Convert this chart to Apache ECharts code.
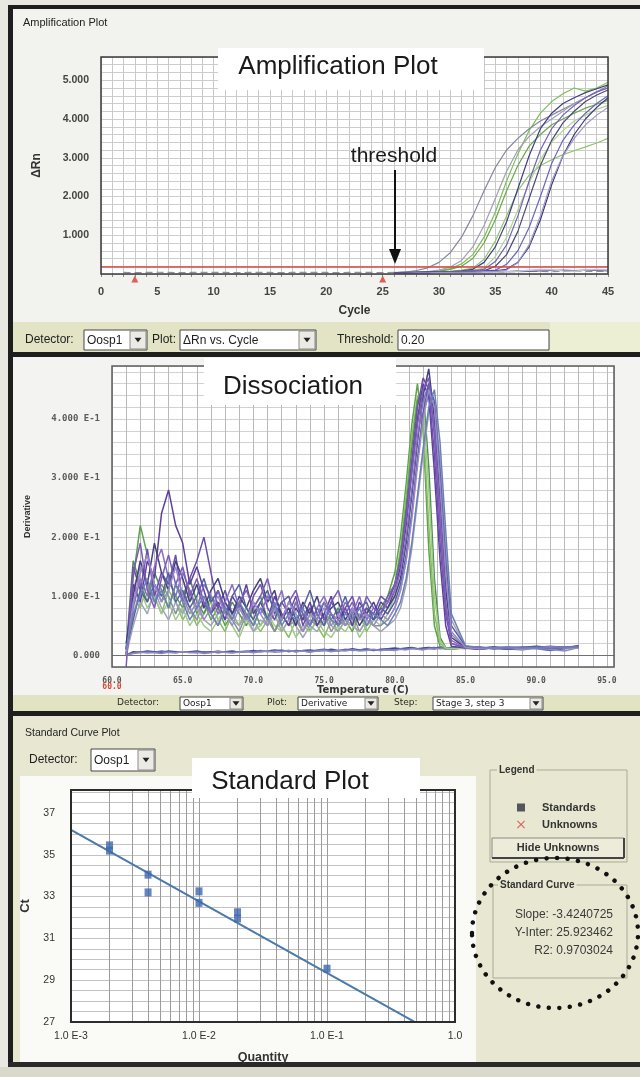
<!DOCTYPE html>
<html>
<head>
<meta charset="utf-8">
<title>qPCR run summary</title>
<script src="https://cdn.jsdelivr.net/npm/echarts@6.0.0/dist/echarts.min.js"></script>
<style>
  html, body { margin: 0; padding: 0; background: #e8e8e1; }
  #chart { width: 640px; height: 1077px; }
</style>
</head>
<body>
<div id="chart"></div>
<script>
// ---------- Amplification: ΔRn per cycle ----------
const ampCycles = [26,27,28,29,30,31,32,33,34,35,36,37,38,39,40,41,42,43,44,45];
const ampWell01 = [0.03,0.05,0.09,0.16,0.30,0.55,0.95,1.50,2.15,2.75,3.20,3.50,3.75,3.95,4.10,4.25,4.40,4.55,4.70,4.85];
const ampWell02 = [0.02,0.03,0.04,0.06,0.10,0.18,0.35,0.70,1.25,1.95,2.65,3.20,3.55,3.80,4.00,4.20,4.40,4.55,4.70,4.80];
const ampWell03 = [0.02,0.03,0.04,0.05,0.08,0.14,0.26,0.50,0.95,1.60,2.40,3.10,3.70,4.15,4.45,4.65,4.80,4.72,4.80,4.95];
const ampWell04 = [0.02,0.03,0.03,0.05,0.07,0.12,0.20,0.40,0.80,1.40,2.15,2.80,3.30,3.60,3.85,4.00,4.15,4.28,4.38,4.48];
const ampWell05 = [0.02,0.02,0.03,0.04,0.05,0.07,0.10,0.15,0.38,0.85,1.50,2.15,2.55,2.80,2.95,3.08,3.18,3.28,3.38,3.50];
const ampWell06 = [0.03,0.03,0.04,0.04,0.05,0.06,0.08,0.12,0.30,0.70,1.35,2.20,3.05,3.75,4.15,4.40,4.55,4.68,4.78,4.88];
const ampWell07 = [0.02,0.03,0.03,0.04,0.05,0.05,0.07,0.09,0.12,0.32,0.75,1.50,2.40,3.20,3.75,4.10,4.35,4.55,4.70,4.80];
const ampWell08 = [0.03,0.04,0.04,0.05,0.05,0.06,0.06,0.07,0.08,0.20,0.50,1.10,1.95,2.80,3.45,3.90,4.20,4.45,4.62,4.75];
const ampWell09 = [0.02,0.03,0.03,0.04,0.04,0.05,0.06,0.07,0.08,0.10,0.25,0.60,1.20,2.00,2.85,3.45,3.85,4.15,4.40,4.60];
const ampWell10 = [0.03,0.03,0.04,0.04,0.05,0.05,0.06,0.06,0.07,0.08,0.12,0.30,0.70,1.40,2.30,3.05,3.60,4.00,4.30,4.55];
const ampWell11 = [0.02,0.02,0.03,0.03,0.04,0.04,0.05,0.05,0.06,0.07,0.10,0.30,0.75,1.50,2.40,3.05,3.50,3.85,4.10,4.30];
const ampWell12 = [0.02,0.03,0.03,0.04,0.05,0.06,0.08,0.10,0.15,0.45,0.95,1.65,2.35,2.95,3.40,3.70,3.95,4.10,4.25,4.35];
const ampColors = ['#85889c','#9fa1b4','#7fbf5a','#6aa84a','#8fc46c','#3f3f82','#7462bc','#4a4a7a','#6a64c6','#3a3a6a','#9f92d8','#b0d48e'];
// no-template wells along the baseline
const ampBaseCycles = [2,3,4,5,6,7,8,9,10,11,12,13,14,15,16,17,18,19,20,21,22,23,24,25,26,27,28,29,30,31,32,33,34,35,36,37,38,39,40,41,42,43,44,45];
const ampNtc1 = [0.04,0.035,0.04,0.045,0.04,0.035,0.04,0.04,0.045,0.04,0.035,0.04,0.045,0.04,0.035,0.04,0.04,0.045,0.04,0.035,0.04,0.045,0.04,0.035,0.04,0.045,0.04,0.04,0.035,0.04,0.045,0.05,0.06,0.055,0.05,0.06,0.07,0.065,0.06,0.07,0.075,0.07,0.065,0.07];
const ampNtc2 = [0.02,0.03,0.04,0.03,0.05,0.04,0.06,0.05,0.06,0.07,0.06,0.08,0.07,0.08,0.09,0.10,0.09,0.10,0.09,0.08];
const ampNtc3 = [0.04,0.05,0.04,0.05,0.06,0.05,0.04,0.05,0.06,0.05,0.06,0.07,0.10,0.12,0.11,0.08,0.07,0.10,0.12,0.11];
const threshold = 0.20;
const baselineMarks = [3, 25];

// ---------- Dissociation: derivative vs. temperature ----------
const meltTemps = [61.0,61.5,62.0,62.5,63.0,63.5,64.0,64.5,65.0,65.5,
  66.0,66.5,67.0,67.5,68.0,68.5,69.0,69.5,70.0,70.5,
  71.0,71.5,72.0,72.5,73.0,73.5,74.0,74.5,75.0,75.5,
  76.0,76.5,77.0,77.5,78.0,78.5,79.0,79.5,80.0,80.4,
  80.8,81.2,81.6,82.0,82.4,82.8,83.2,83.6,84.0,85.0,
  86.0,87.0,88.0,89.0,90.0,91.0,92.0,93.0];
const meltWell01 = [0.0,0.13,0.22,0.17,0.12,0.09,0.13,0.10,0.08,0.11,
  0.07,0.09,0.06,0.08,0.05,0.07,0.09,0.06,0.08,0.05,
  0.07,0.04,0.06,0.08,0.05,0.07,0.04,0.06,0.05,0.07,
  0.05,0.06,0.04,0.07,0.05,0.06,0.08,0.10,0.14,
  0.20,0.29,0.39,0.46,0.38,0.18,0.05,0.015,0.012,0.011,
  0.012,0.011,0.013,0.012,0.011,0.013,0.012,0.012,0.013];
const meltWell02 = [0.0,0.10,0.08,0.12,0.10,0.07,0.11,0.09,0.06,0.08,
  0.05,0.07,0.09,0.06,0.04,0.07,0.05,0.08,0.06,0.04,
  0.06,0.08,0.05,0.03,0.06,0.04,0.07,0.05,0.03,0.06,
  0.04,0.06,0.05,0.07,0.04,0.06,0.07,0.09,0.12,
  0.18,0.27,0.37,0.44,0.40,0.22,0.07,0.02,0.012,0.012,
  0.011,0.012,0.012,0.013,0.011,0.012,0.013,0.012,0.014];
const meltWell03 = [0.01,0.16,0.12,0.09,0.14,0.11,0.08,0.12,0.10,0.13,
  0.09,0.07,0.10,0.08,0.06,0.09,0.07,0.05,0.08,0.10,
  0.06,0.08,0.07,0.05,0.09,0.06,0.08,0.05,0.07,0.06,
  0.08,0.05,0.07,0.06,0.08,0.06,0.07,0.09,0.12,
  0.17,0.25,0.35,0.43,0.45,0.32,0.13,0.03,0.013,0.012,
  0.012,0.013,0.011,0.012,0.014,0.012,0.013,0.012,0.013];
const meltWell04 = [0.0,0.07,0.11,0.08,0.10,0.07,0.09,0.06,0.08,0.05,
  0.07,0.05,0.04,0.06,0.08,0.05,0.03,0.06,0.04,0.05,
  0.07,0.05,0.04,0.06,0.03,0.05,0.04,0.06,0.04,0.03,
  0.05,0.04,0.06,0.03,0.05,0.06,0.05,0.07,0.10,
  0.15,0.23,0.33,0.41,0.43,0.28,0.10,0.025,0.012,0.011,
  0.012,0.011,0.012,0.013,0.012,0.011,0.012,0.013,0.012];
const meltWell05 = [0.0,0.11,0.15,0.12,0.09,0.12,0.10,0.07,0.10,0.08,
  0.06,0.09,0.07,0.05,0.08,0.06,0.04,0.07,0.05,0.08,
  0.06,0.04,0.07,0.05,0.06,0.04,0.06,0.05,0.07,0.04,
  0.06,0.05,0.07,0.04,0.06,0.05,0.05,0.06,0.08,
  0.11,0.16,0.24,0.33,0.41,0.44,0.39,0.26,0.12,0.035,
  0.012,0.012,0.013,0.011,0.012,0.013,0.012,0.014,0.013];
const meltWell06 = [0.0,0.05,0.09,0.07,0.11,0.08,0.06,0.09,0.07,0.10,
  0.08,0.06,0.05,0.07,0.09,0.06,0.05,0.07,0.04,0.06,
  0.05,0.07,0.04,0.06,0.05,0.03,0.05,0.04,0.06,0.05,
  0.04,0.06,0.05,0.04,0.06,0.05,0.04,0.05,0.06,
  0.08,0.12,0.18,0.26,0.34,0.41,0.43,0.33,0.18,0.06,
  0.014,0.012,0.013,0.012,0.011,0.013,0.012,0.013,0.014];
const meltWell07 = [0.01,0.12,0.09,0.16,0.13,0.24,0.28,0.22,0.19,0.12,
  0.15,0.11,0.07,0.09,0.06,0.10,0.08,0.12,0.07,0.09,
  0.06,0.10,0.07,0.05,0.08,0.06,0.09,0.05,0.07,0.10,
  0.06,0.08,0.05,0.09,0.07,0.06,0.09,0.08,0.11,
  0.15,0.22,0.31,0.40,0.46,0.44,0.31,0.16,0.05,0.015,
  0.012,0.010,0.013,0.011,0.012,0.014,0.012,0.013,0.015];
const meltWell08 = [0.0,0.15,0.11,0.18,0.10,0.14,0.12,0.17,0.09,0.13,
  0.16,0.20,0.14,0.08,0.11,0.07,0.09,0.06,0.10,0.12,
  0.08,0.06,0.09,0.07,0.10,0.05,0.08,0.06,0.09,0.07,
  0.05,0.08,0.10,0.06,0.08,0.07,0.10,0.09,0.12,
  0.16,0.24,0.33,0.42,0.47,0.45,0.34,0.19,0.07,0.02,
  0.012,0.011,0.012,0.010,0.013,0.012,0.014,0.013,0.014];
const meltWell09 = [0.02,0.10,0.16,0.12,0.19,0.14,0.11,0.16,0.13,0.09,
  0.12,0.08,0.11,0.13,0.09,0.07,0.10,0.08,0.11,0.13,
  0.09,0.11,0.06,0.08,0.05,0.09,0.07,0.10,0.06,0.08,
  0.09,0.06,0.08,0.05,0.07,0.09,0.06,0.08,0.10,
  0.13,0.19,0.27,0.36,0.44,0.485,0.40,0.26,0.11,0.03,
  0.013,0.012,0.014,0.012,0.013,0.015,0.013,0.012,0.016];
const meltWell10 = [0.0,0.08,0.13,0.10,0.15,0.18,0.13,0.10,0.14,0.11,
  0.08,0.12,0.10,0.07,0.09,0.12,0.08,0.06,0.09,0.07,
  0.10,0.08,0.11,0.06,0.09,0.07,0.05,0.08,0.10,0.07,
  0.06,0.09,0.07,0.10,0.06,0.08,0.07,0.09,0.11,
  0.14,0.20,0.28,0.37,0.43,0.46,0.38,0.24,0.09,0.025,
  0.012,0.013,0.011,0.012,0.014,0.013,0.012,0.014,0.015];
const meltWell11 = [0.01,0.06,0.11,0.09,0.12,0.10,0.14,0.09,0.11,0.08,
  0.10,0.13,0.09,0.11,0.07,0.10,0.12,0.08,0.06,0.09,
  0.11,0.07,0.09,0.10,0.06,0.08,0.11,0.07,0.05,0.09,
  0.07,0.10,0.06,0.08,0.09,0.06,0.08,0.07,0.09,
  0.12,0.17,0.24,0.33,0.41,0.46,0.43,0.31,0.16,0.05,
  0.015,0.012,0.013,0.011,0.012,0.014,0.012,0.013,0.014];
const meltWell12 = [-0.02,0.14,0.19,0.11,0.08,0.13,0.17,0.12,0.15,0.10,
  0.13,0.09,0.07,0.11,0.08,0.06,0.09,0.11,0.08,0.10,
  0.13,0.08,0.06,0.09,0.11,0.07,0.05,0.08,0.06,0.09,
  0.11,0.07,0.09,0.06,0.10,0.08,0.07,0.10,0.12,
  0.16,0.23,0.31,0.39,0.45,0.47,0.37,0.22,0.08,0.02,
  0.012,0.013,0.012,0.014,0.012,0.013,0.015,0.013,0.014];
const meltWell13 = [0.0,0.09,0.14,0.17,0.12,0.09,0.11,0.15,0.10,0.07,
  0.09,0.06,0.08,0.10,0.07,0.05,0.08,0.06,0.09,0.07,
  0.05,0.08,0.06,0.09,0.07,0.04,0.07,0.06,0.08,0.05,
  0.07,0.05,0.08,0.06,0.07,0.05,0.07,0.06,0.08,
  0.11,0.16,0.23,0.32,0.40,0.45,0.42,0.29,0.14,0.04,
  0.013,0.011,0.012,0.013,0.011,0.012,0.014,0.012,0.013];
const meltWell14 = [0.01,0.07,0.10,0.13,0.09,0.11,0.08,0.12,0.09,0.06,
  0.08,0.10,0.07,0.05,0.08,0.06,0.09,0.07,0.05,0.08,
  0.06,0.09,0.05,0.07,0.06,0.08,0.05,0.07,0.09,0.06,
  0.05,0.07,0.06,0.08,0.05,0.07,0.06,0.05,0.07,
  0.09,0.13,0.19,0.27,0.35,0.42,0.45,0.36,0.21,0.07,
  0.016,0.013,0.012,0.014,0.012,0.013,0.012,0.014,0.013];
const meltColors = ['#5ea34a','#86bf64','#4f8f58','#a3c98a','#8a8f9c','#a0a4b4',
  '#5d3f9c','#6e4daf','#44417f','#8a6dc0','#53629e','#7a5cb6','#9b88cc','#6b80b8'];
const meltNtc1 = [0.0,0.006,0.005,0.007,0.006,0.005,0.007,0.006,0.005,0.006,
  0.007,0.005,0.006,0.004,0.006,0.007,0.005,0.006,0.008,0.006,
  0.007,0.009,0.007,0.008,0.006,0.008,0.009,0.007,0.008,0.010,
  0.008,0.009,0.011,0.009,0.010,0.008,0.010,0.011,0.012,0.011,
  0.012,0.013,0.011,0.012,0.013,0.012,0.014,0.012,0.013,0.012,
  0.014,0.011,0.013,0.010,0.012,0.009,0.011,0.014];
const meltNtc2 = [0.0,0.004,0.006,0.004,0.005,0.007,0.005,0.004,0.006,0.005,
  0.004,0.006,0.005,0.007,0.005,0.004,0.006,0.007,0.006,0.008,
  0.006,0.007,0.009,0.006,0.008,0.007,0.006,0.009,0.010,0.008,
  0.007,0.010,0.008,0.009,0.011,0.009,0.008,0.010,0.009,0.011,
  0.010,0.012,0.011,0.010,0.012,0.013,0.011,0.012,0.010,0.013,
  0.011,0.012,0.010,0.013,0.011,0.008,0.012,0.012];
const meltNtc3 = [0.0,0.003,0.004,0.005,0.004,0.003,0.005,0.004,0.006,0.004,
  0.005,0.003,0.004,0.006,0.005,0.004,0.005,0.006,0.004,0.006,
  0.007,0.005,0.006,0.008,0.006,0.007,0.005,0.007,0.008,0.006,
  0.008,0.007,0.009,0.007,0.008,0.010,0.008,0.009,0.008,0.010,
  0.009,0.011,0.010,0.009,0.011,0.010,0.012,0.010,0.011,0.012,
  0.010,0.012,0.011,0.009,0.012,0.010,0.007,0.013];
const ntcColors = ['#45489a','#6468b2','#8c8cbc'];

// ---------- Standard curve: Ct vs. quantity ----------
const stdQuantity = [0.002,0.002,0.004,0.004,0.01,0.01,0.02,0.02,0.1];
const stdCt = [35.45,35.2,34.05,33.2,33.25,32.7,32.25,31.95,29.55];
const slope = -3.4240725;
const yIntercept = 25.923462;
const r2 = 0.9703024;
const stdRange = [0.001, 1];
const stdLogGrid = [0.002,0.003,0.004,0.005,0.006,0.007,0.008,0.009,0.01,
  0.02,0.03,0.04,0.05,0.06,0.07,0.08,0.09,0.1,
  0.2,0.3,0.4,0.5,0.6,0.7,0.8,0.9];

// ---------- layout ----------
const SANS = '"Liberation Sans", Arial, sans-serif';
const NARROW = '"Liberation Sans Narrow", "Liberation Sans", Arial, sans-serif';
const MONO = '"DejaVu Sans Mono", monospace';
const WIDE = '"DejaVu Sans", sans-serif';
const AMP = { left: 101, top: 57, width: 507, height: 217 };
const DIS = { left: 112, top: 366, width: 502, height: 301 };
const STD = { left: 71, top: 790, width: 384, height: 232 };

const G = [];
function rect(x, y, w, h, fill, z, stroke, lw) {
  G.push({ type: 'rect', silent: true, z: z, shape: { x: x, y: y, width: w, height: h },
    style: { fill: fill || 'none', stroke: stroke || 'none', lineWidth: lw || 0 } });
}
function line(x1, y1, x2, y2, color, lw, z) {
  G.push({ type: 'line', silent: true, z: z, shape: { x1: x1, y1: y1, x2: x2, y2: y2 },
    style: { stroke: color, lineWidth: lw } });
}
function txt(x, y, s, font, color, align, z, extra) {
  G.push({ type: 'text', silent: true, z: z || 20, x: x, y: y,
    style: Object.assign({ text: s, font: font, fill: color,
      align: align || 'left', textAlign: align || 'left',
      verticalAlign: 'middle', textVerticalAlign: 'middle' }, extra || {}) });
}
function tri(cx, cy, w, h, color, z) {
  G.push({ type: 'polygon', silent: true, z: z,
    shape: { points: [[cx - w / 2, cy - h / 2], [cx + w / 2, cy - h / 2], [cx, cy + h / 2]] },
    style: { fill: color } });
}
function dropBox(x, y, w, h, label, font, arrow) {
  rect(x, y, w, h, '#ffffff', 5, '#474747', 1);
  txt(x + 3, y + h / 2 + 0.5, label, font, '#1e1e1e', 'left', 6);
  if (arrow) {
    const bw = Math.min(17, h);
    rect(x + w - bw, y + 1, bw - 1, h - 2, '#ebebe3', 6, '#8a8a8a', 1);
    tri(x + w - bw / 2 - 0.5, y + h / 2, 7, 4.5, '#222', 7);
  }
}

// panel backgrounds and black frames
rect(13, 9, 627, 313, '#f2f2ee', -10);
rect(13, 322, 627, 30, '#e2e4c5', -10);
rect(550, 322, 90, 30, '#ecefd3', -9);
rect(13, 357, 627, 338, '#f3f3f1', -10);
rect(13, 695, 627, 16, '#e1e3c3', -10);
rect(13, 716, 627, 346, '#e8e8d2', -10);
rect(20, 776, 456, 286, '#fafaf7', -9);
rect(0, 1067, 640, 10, '#d9d9cc', -10);
rect(8, 5, 632, 4, '#1e1e1e', -8);
rect(8, 5, 5, 1062, '#1e1e1e', -8);
rect(8, 352, 632, 5, '#1e1e1e', -8);
rect(8, 711, 632, 5, '#1e1e1e', -8);
rect(8, 1062, 632, 5, '#2a2a2a', -8);

// plot frames
rect(AMP.left, AMP.top, AMP.width, AMP.height, null, 50, '#3a3a3a', 1.5);
rect(DIS.left, DIS.top, DIS.width, DIS.height, null, 50, '#5e5e5e', 1.5);
rect(STD.left, STD.top, STD.width, STD.height, null, 50, '#2c2c2c', 2);

// overlay titles
rect(218, 48, 266, 42, '#ffffff', 60);
txt(338, 67, 'Amplification Plot', '26px ' + SANS, '#1a1a1a', 'center', 61);
rect(204, 358, 192, 47, '#ffffff', 60);
txt(293, 387, 'Dissociation', '26px ' + SANS, '#1a1a1a', 'center', 61);
rect(192, 758, 228, 40, '#ffffff', 60);
txt(290, 782, 'Standard Plot', '26px ' + SANS, '#1a1a1a', 'center', 61);

// threshold callout
txt(394, 156, 'threshold', '21px ' + SANS, '#1a1a1a', 'center', 70);
line(395, 170, 395, 252, '#111', 2, 70);
G.push({ type: 'polygon', silent: true, z: 70,
  shape: { points: [[389, 249], [401, 249], [395, 264]] }, style: { fill: '#111' } });

// panel headers and control bars
txt(23, 23, 'Amplification Plot', '11px ' + SANS, '#222', 'left', 20);
txt(25, 340, 'Detector:', '12px ' + SANS, '#1e1e1e', 'left', 20);
dropBox(84, 330, 63, 20, 'Oosp1', '12px ' + SANS, true);
txt(152, 340, 'Plot:', '12px ' + SANS, '#1e1e1e', 'left', 20);
dropBox(180, 330, 136, 20, 'ΔRn vs. Cycle', '12px ' + SANS, true);
txt(337, 340, 'Threshold:', '12px ' + SANS, '#1e1e1e', 'left', 20);
dropBox(398, 330, 151, 20, '0.20', '12px ' + SANS, false);

txt(117, 703, 'Detector:', '9px ' + WIDE, '#2a2a2a', 'left', 20);
dropBox(180, 697, 63, 13, 'Oosp1', '9px ' + WIDE, true);
txt(267, 703, 'Plot:', '9px ' + WIDE, '#2a2a2a', 'left', 20);
dropBox(298, 697, 80, 13, 'Derivative', '9px ' + WIDE, true);
txt(394, 703, 'Step:', '9px ' + WIDE, '#2a2a2a', 'left', 20);
dropBox(433, 697, 110, 13, 'Stage 3, step 3', '9px ' + WIDE, true);
txt(112, 687, '60.0', 'bold 8px ' + MONO, '#d24a3a', 'center', 20);

txt(25, 733, 'Standard Curve Plot', '10.5px ' + SANS, '#222', 'left', 20);
txt(29, 760, 'Detector:', '12px ' + SANS, '#1e1e1e', 'left', 20);
dropBox(91, 749, 64, 22, 'Oosp1', '12px ' + SANS, true);

// legend and fit-summary group boxes
rect(490, 770, 137, 92, null, 20, '#a9a996', 1);
txt(497, 770, 'Legend', 'bold 10px ' + SANS, '#333', 'left', 21,
  { backgroundColor: '#e8e8d2', padding: [0, 2] });
rect(492, 838, 132, 20, '#edecdb', 22, '#8a8a80', 1);
line(624, 838, 624, 858, '#444', 2, 23);
line(492, 858, 624, 858, '#444', 2, 23);
txt(558, 848, 'Hide Unknowns', 'bold 11px ' + SANS, '#333', 'center', 24);
rect(493, 885, 134, 93, null, 20, '#a9a996', 1);
txt(498, 885, 'Standard Curve', 'bold 10px ' + SANS, '#333', 'left', 21,
  { backgroundColor: '#e8e8d2', padding: [0, 2] });
txt(613, 915, 'Slope: ' + slope.toFixed(7), '12px ' + SANS, '#3a3a3a', 'right', 21);
txt(613, 933, 'Y-Inter: ' + yIntercept.toFixed(6), '12px ' + SANS, '#3a3a3a', 'right', 21);
txt(613, 951, 'R2: ' + r2.toFixed(7), '12px ' + SANS, '#3a3a3a', 'right', 21);
G.push({ type: 'ellipse', silent: true, z: 80,
  shape: { cx: 555, cy: 933, rx: 83, ry: 75 },
  style: { fill: 'none', stroke: '#111', lineWidth: 4.5, lineDash: [0.01, 10.5], lineCap: 'round' } });

// ---------- series ----------
function pairs(xs, ys) { return xs.map(function (x, i) { return [x, ys[i]]; }); }
const series = [];

const ampWells = [ampWell03, ampWell04, ampWell05, ampWell12, ampWell01, ampWell02,
  ampWell06, ampWell07, ampWell08, ampWell09, ampWell10, ampWell11];
const ampWellColors = [ampColors[2], ampColors[3], ampColors[4], ampColors[11], ampColors[0], ampColors[1],
  ampColors[5], ampColors[6], ampColors[7], ampColors[8], ampColors[9], ampColors[10]];
series.push({ type: 'line', xAxisIndex: 0, yAxisIndex: 0, silent: true, symbol: 'none',
  data: pairs(ampBaseCycles, ampNtc1), lineStyle: { color: '#8f8f98', width: 1.2, type: [7, 4] },
  markLine: { silent: true, symbol: ['none', 'none'], label: { show: false }, precision: 6,
    lineStyle: { color: '#d9463e', width: 1.6, type: 'solid' }, data: [{ yAxis: threshold }] } });
series.push({ type: 'line', xAxisIndex: 0, yAxisIndex: 0, silent: true, symbol: 'none',
  data: pairs(ampCycles, ampNtc2), lineStyle: { color: '#6a60b0', width: 1.2 } });
series.push({ type: 'line', xAxisIndex: 0, yAxisIndex: 0, silent: true, symbol: 'none',
  data: pairs(ampCycles, ampNtc3), lineStyle: { color: '#c4c4d2', width: 1.4 } });
ampWells.forEach(function (vals, i) {
  series.push({ type: 'line', xAxisIndex: 0, yAxisIndex: 0, silent: true, symbol: 'none',
    data: pairs(ampCycles, vals), lineStyle: { color: ampWellColors[i], width: 1.2 } });
});
series.push({ type: 'scatter', xAxisIndex: 0, yAxisIndex: 0, silent: true, clip: false,
  symbol: 'triangle', symbolSize: [7, 7], symbolOffset: [0, 5], z: 6,
  data: baselineMarks.map(function (c) { return [c, 0]; }), itemStyle: { color: '#d8392e' } });

[meltNtc1, meltNtc2, meltNtc3].forEach(function (vals, i) {
  const s = { type: 'line', xAxisIndex: 1, yAxisIndex: 1, silent: true, symbol: 'none',
    data: pairs(meltTemps, vals), lineStyle: { color: ntcColors[i], width: 1.5 } };
  if (i === 0) {
    s.markLine = { silent: true, symbol: ['none', 'none'], label: { show: false }, precision: 6,
      lineStyle: { color: '#707070', width: 1.2, type: 'solid' }, data: [{ yAxis: 0 }] };
  }
  series.push(s);
});
[meltWell01, meltWell02, meltWell03, meltWell04, meltWell05, meltWell06, meltWell07,
 meltWell08, meltWell09, meltWell10, meltWell11, meltWell12, meltWell13, meltWell14].forEach(function (vals, i) {
  series.push({ type: 'line', xAxisIndex: 1, yAxisIndex: 1, silent: true, symbol: 'none',
    data: pairs(meltTemps, vals), lineStyle: { color: meltColors[i], width: 1.5 } });
});

series.push({ type: 'line', xAxisIndex: 2, yAxisIndex: 2, silent: true, symbol: 'none', z: 1, data: [],
  markLine: { silent: true, symbol: ['none', 'none'], label: { show: false }, precision: 6,
    lineStyle: { color: '#9b9b9b', width: 1, type: 'solid' },
    data: stdLogGrid.map(function (q) { return { xAxis: q }; }) } });
series.push({ name: 'Standard Curve', type: 'line', xAxisIndex: 2, yAxisIndex: 2, silent: true,
  symbol: 'none', z: 9, clip: true,
  data: stdRange.map(function (q) { return [q, slope * Math.log10(q) + yIntercept]; }),
  lineStyle: { color: '#4b79a9', width: 2 } });
series.push({ name: 'Standards', type: 'scatter', xAxisIndex: 2, yAxisIndex: 2, silent: true,
  symbol: 'rect', symbolSize: [7, 8], z: 10,
  data: pairs(stdQuantity, stdCt), itemStyle: { color: '#3f66ac' } });
const crossIcon = 'path://M0,1L1,0L5,4L9,0L10,1L6,5L10,9L9,10L5,6L1,10L0,9L4,5Z';
series.push({ name: 'Unknowns', type: 'scatter', xAxisIndex: 2, yAxisIndex: 2, silent: true,
  symbol: crossIcon, symbolSize: 9, data: [], itemStyle: { color: '#d9413b' } });

// ---------- axes ----------
function near(v, step) { const t = v / step; return Math.abs(t - Math.round(t)) < 1e-6; }
const gridBase = { show: true, borderWidth: 0, containLabel: false, outerBoundsMode: 'none' };
const option = {
  animation: false,
  backgroundColor: '#e8e8e1',
  grid: [
    Object.assign({}, gridBase, AMP, { backgroundColor: '#ffffff' }),
    Object.assign({}, gridBase, DIS, { backgroundColor: '#ffffff' }),
    Object.assign({}, gridBase, STD, { backgroundColor: '#ffffff' })
  ],
  xAxis: [
    { type: 'value', gridIndex: 0, min: 0, max: 45, interval: 1,
      axisLine: { show: false },
      axisTick: { show: true, length: 3, lineStyle: { color: '#8a8a8a' } },
      axisLabel: { margin: 12, fontFamily: SANS, fontSize: 11, fontWeight: 'bold', color: '#444',
        formatter: function (v) { return near(v, 5) ? String(Math.round(v)) : ''; } },
      splitLine: { show: true, lineStyle: { color: '#c9c9c9', width: 1 } },
      name: 'Cycle', nameLocation: 'middle', nameGap: 31,
      nameTextStyle: { fontFamily: SANS, fontSize: 12, fontWeight: 'bold', color: '#333' } },
    { type: 'value', gridIndex: 1, min: 60, max: 95.5, interval: 1,
      axisLine: { show: false }, axisTick: { show: false },
      axisLabel: { margin: 10, fontFamily: MONO, fontSize: 8, fontWeight: 'bold', color: '#555',
        formatter: function (v) { return near(v, 5) ? v.toFixed(1) : ''; } },
      splitLine: { show: true, lineStyle: { color: '#b9b9b9', width: 1 } },
      name: 'Temperature (C)', nameLocation: 'middle', nameGap: 16,
      nameTextStyle: { fontFamily: WIDE, fontSize: 10, fontWeight: 'bold', color: '#333' } },
    { type: 'log', logBase: 10, gridIndex: 2, min: stdRange[0], max: stdRange[1],
      axisLine: { show: false }, axisTick: { show: false },
      axisLabel: { margin: 9, fontFamily: SANS, fontSize: 10.5, color: '#333',
        formatter: function (v) { const e = Math.round(Math.log10(v)); return e === 0 ? '1.0' : '1.0 E' + e; } },
      splitLine: { show: false },
      name: 'Quantity', nameLocation: 'middle', nameGap: 29,
      nameTextStyle: { fontFamily: SANS, fontSize: 12.5, fontWeight: 'bold', color: '#333' } }
  ],
  yAxis: [
    { type: 'value', gridIndex: 0, min: 0, max: 5.6, interval: 0.2,
      axisLine: { show: false }, axisTick: { show: false },
      axisLabel: { margin: 12, fontFamily: SANS, fontSize: 10.5, fontWeight: 'bold', color: '#444',
        formatter: function (v) { return (v > 0 && near(v, 1)) ? Math.round(v).toFixed(3) : ''; } },
      splitLine: { show: true, lineStyle: { color: '#cdcdcd', width: 1 } },
      name: 'ΔRn', nameLocation: 'middle', nameRotate: 90, nameGap: 58,
      nameTextStyle: { fontFamily: SANS, fontSize: 12, fontWeight: 'bold', color: '#333' } },
    { type: 'value', gridIndex: 1, min: -0.02, max: 0.49, interval: 0.02,
      axisLine: { show: false }, axisTick: { show: false },
      axisLabel: { margin: 12, fontFamily: MONO, fontSize: 9, fontWeight: 'bold', color: '#5a5a5a',
        formatter: function (v) {
          if (v < -1e-9 || !near(v, 0.1)) return '';
          const t = Math.round(v * 10);
          return t === 0 ? '0.000' : t.toFixed(3) + ' E-1';
        } },
      splitLine: { show: true, lineStyle: { color: '#d2d2d2', width: 1 } },
      name: 'Derivative', nameLocation: 'middle', nameRotate: 90, nameGap: 80,
      nameTextStyle: { fontFamily: NARROW, fontSize: 9, fontWeight: 'bold', color: '#333' } },
    { type: 'value', gridIndex: 2, min: 27, max: 38.1, interval: 0.5,
      axisLine: { show: false }, axisTick: { show: false },
      axisLabel: { margin: 16, fontFamily: NARROW, fontSize: 10.5, color: '#333',
        formatter: function (v) { return (v < 38 && near(v - 27, 2)) ? String(Math.round(v)) : ''; } },
      splitLine: { show: true, lineStyle: { color: '#c2c2c2', width: 1 } },
      name: 'Ct', nameLocation: 'middle', nameRotate: 90, nameGap: 34,
      nameTextStyle: { fontFamily: SANS, fontSize: 13, fontWeight: 'bold', color: '#333' } }
  ],
  legend: {
    data: [{ name: 'Standards', icon: 'rect', itemStyle: { color: '#2e3140' } },
      { name: 'Unknowns', icon: crossIcon }],
    orient: 'vertical', left: 512, top: 797, itemWidth: 8, itemHeight: 8, itemGap: 6,
    selectedMode: false,
    textStyle: { fontFamily: SANS, fontSize: 11, fontWeight: 'bold', color: '#333', padding: [0, 0, 0, 12] }
  },
  graphic: { elements: G },
  series: series
};

const chart = echarts.init(document.getElementById('chart'), null, { renderer: 'canvas' });
chart.setOption(option);
</script>
</body>
</html>
